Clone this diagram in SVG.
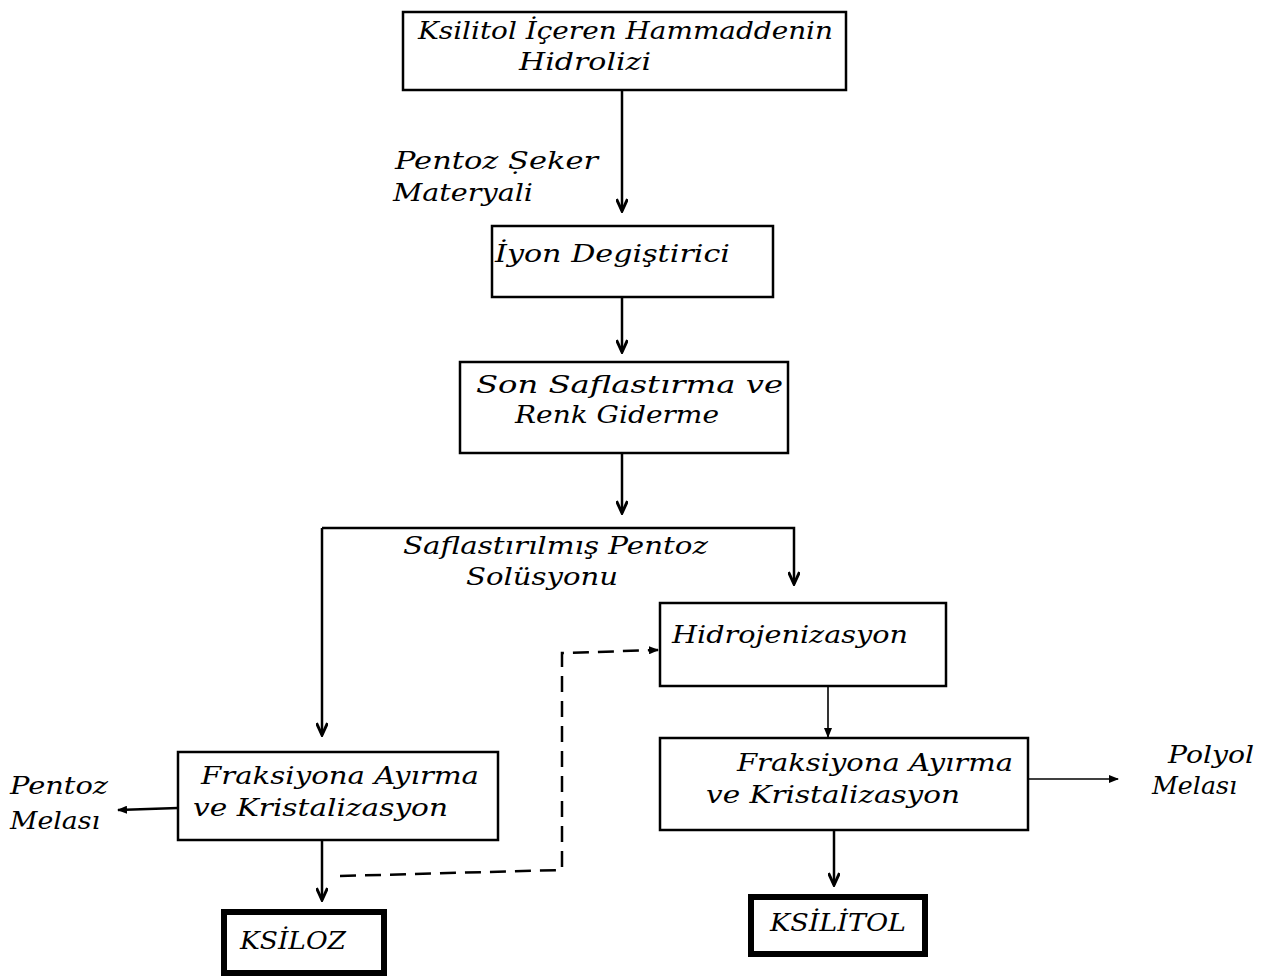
<svg xmlns="http://www.w3.org/2000/svg" width="1270" height="980" viewBox="0 0 1270 980">
<style>
  .box{fill:#fff;stroke:#000;stroke-width:2.5}
  .thick{fill:#fff;stroke:#000;stroke-width:6}
  .t{font-family:"DejaVu Serif","Liberation Serif",serif;font-style:italic;font-size:24px;fill:#000}
  .c{fill:none;stroke:#000;stroke-width:2.5}
  .thin{fill:none;stroke:#000;stroke-width:1.6}
  .dash{fill:none;stroke:#000;stroke-width:2.5;stroke-dasharray:16,9}
</style>
<defs>
  <marker id="v" viewBox="0 0 16 12" refX="14" refY="6" markerWidth="16" markerHeight="12" markerUnits="userSpaceOnUse" orient="auto">
    <path d="M2,0.5 L14,6 L2,11.5" fill="none" stroke="#000" stroke-width="3"/>
  </marker>
  <marker id="d" viewBox="0 0 10 8" refX="9" refY="4" markerWidth="10" markerHeight="8" markerUnits="userSpaceOnUse" orient="auto">
    <path d="M0,0 L10,4 L0,8 Z" fill="#000"/>
  </marker>
</defs>
<rect width="1270" height="980" fill="#fff"/>

<g id="connectors">
  <line class="c" x1="622" y1="90" x2="622" y2="211" marker-end="url(#v)"/>
  <line class="c" x1="622" y1="297" x2="622" y2="352" marker-end="url(#v)"/>
  <line class="c" x1="622" y1="453" x2="622" y2="513" marker-end="url(#v)"/>
  <polyline class="c" points="322,528 794,528 794,584" marker-end="url(#v)"/>
  <line class="c" x1="322" y1="528" x2="322" y2="735" marker-end="url(#v)"/>
  <line class="thin" x1="828" y1="686" x2="828" y2="737" marker-end="url(#d)"/>
  <line class="thin" x1="1028" y1="779" x2="1118" y2="779" marker-end="url(#d)"/>
  <line class="c" x1="178" y1="808" x2="118" y2="810" marker-end="url(#d)"/>
  <line class="c" x1="322" y1="840" x2="322" y2="900" marker-end="url(#v)"/>
  <line class="c" x1="834" y1="830" x2="834" y2="885" marker-end="url(#v)"/>
  <polyline class="dash" points="340,876 562,870 562,653 658,650" marker-end="url(#d)"/>
</g>

<g id="n1">
  <rect class="box" x="403" y="12" width="443" height="78"/>
  <text class="t" x="418" y="39" textLength="415" lengthAdjust="spacingAndGlyphs">Ksilitol İçeren Hammaddenin</text>
  <text class="t" x="519" y="70" textLength="132" lengthAdjust="spacingAndGlyphs">Hidrolizi</text>
</g>
<g id="l1">
  <text class="t" x="395" y="169" textLength="203" lengthAdjust="spacingAndGlyphs">Pentoz Ṣeker</text>
  <text class="t" x="393" y="201" textLength="140" lengthAdjust="spacingAndGlyphs">Materyali</text>
</g>
<g id="n2">
  <rect class="box" x="492" y="226" width="281" height="71"/>
  <text class="t" x="495" y="262" textLength="235" lengthAdjust="spacingAndGlyphs">İyon Degiştirici</text>
</g>
<g id="n3">
  <rect class="box" x="460" y="362" width="328" height="91"/>
  <text class="t" x="476" y="393" textLength="307" lengthAdjust="spacingAndGlyphs">Son Saflastırma ve</text>
  <text class="t" x="515" y="423" textLength="204" lengthAdjust="spacingAndGlyphs">Renk Giderme</text>
</g>
<g id="l2">
  <text class="t" x="403" y="554" textLength="305" lengthAdjust="spacingAndGlyphs">Saflastırılmış Pentoz</text>
  <text class="t" x="466" y="585" textLength="152" lengthAdjust="spacingAndGlyphs">Solüsyonu</text>
</g>
<g id="n4">
  <rect class="box" x="660" y="603" width="286" height="83"/>
  <text class="t" x="672" y="643" textLength="236" lengthAdjust="spacingAndGlyphs">Hidrojenizasyon</text>
</g>
<g id="n5">
  <rect class="box" x="178" y="752" width="320" height="88"/>
  <text class="t" x="201" y="784" textLength="278" lengthAdjust="spacingAndGlyphs">Fraksiyona Ayırma</text>
  <text class="t" x="193" y="816" textLength="255" lengthAdjust="spacingAndGlyphs">ve Kristalizasyon</text>
</g>
<g id="n6">
  <rect class="box" x="660" y="738" width="368" height="92"/>
  <text class="t" x="737" y="771" textLength="276" lengthAdjust="spacingAndGlyphs">Fraksiyona Ayırma</text>
  <text class="t" x="706" y="803" textLength="254" lengthAdjust="spacingAndGlyphs">ve Kristalizasyon</text>
</g>
<g id="l3">
  <text class="t" x="10" y="794" textLength="98" lengthAdjust="spacingAndGlyphs">Pentoz</text>
  <text class="t" x="10" y="829" textLength="90" lengthAdjust="spacingAndGlyphs">Melası</text>
</g>
<g id="l4">
  <text class="t" x="1168" y="763" textLength="86" lengthAdjust="spacingAndGlyphs">Polyol</text>
  <text class="t" x="1152" y="794" textLength="85" lengthAdjust="spacingAndGlyphs">Melası</text>
</g>
<g id="n7">
  <rect class="thick" x="224" y="912" width="160" height="61"/>
  <text class="t" x="240" y="949" textLength="106" lengthAdjust="spacingAndGlyphs">KSİLOZ</text>
</g>
<g id="n8">
  <rect class="thick" x="751" y="897" width="174" height="57"/>
  <text class="t" x="770" y="931" textLength="136" lengthAdjust="spacingAndGlyphs">KSİLİTOL</text>
</g>
</svg>
